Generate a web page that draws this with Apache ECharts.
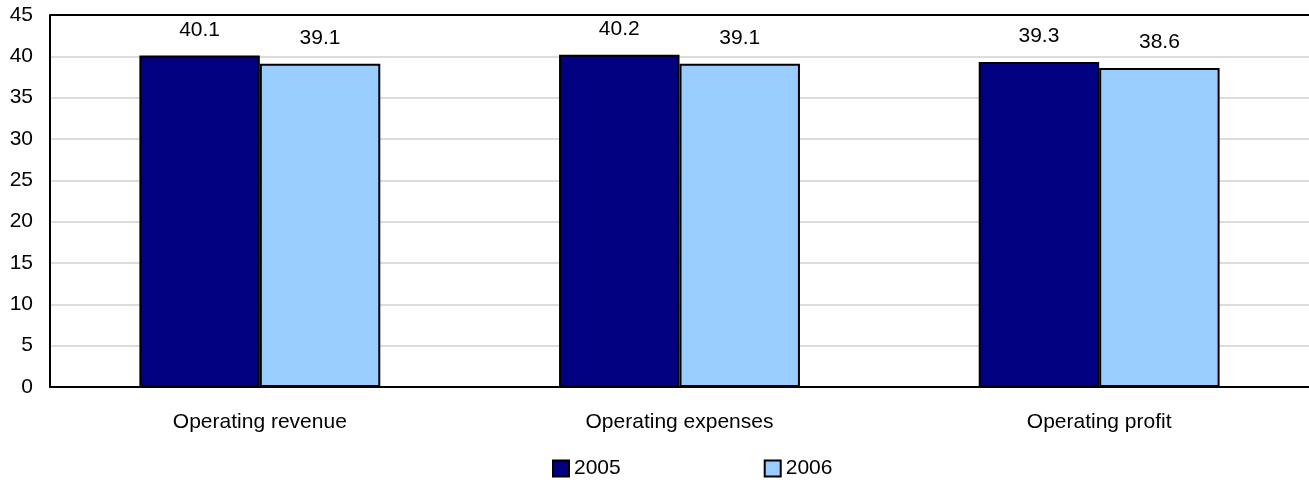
<!DOCTYPE html>
<html>
<head>
<meta charset="utf-8">
<script src="https://cdn.jsdelivr.net/npm/echarts@6/dist/echarts.min.js"></script>
<style>
  html, body { margin: 0; padding: 0; background: #fff; }
  #chart { width: 1309px; height: 489px; }
</style>
</head>
<body>
<div id="chart"></div>
<script>
// Operating indicators by year
const categories = ['Operating revenue', 'Operating expenses', 'Operating profit'];
const values2005 = [40.1, 40.2, 39.3];
const values2006 = [39.1, 39.1, 38.6];
const seriesNames = ['2005', '2006'];
const yMax = 45;

const FONT = '"Liberation Sans", Arial, sans-serif';
const FS = 21;
const chart = echarts.init(document.getElementById('chart'), null, { renderer: 'canvas' });

function barSeries(name, data, color, withFrame) {
  const s = {
    name: name,
    type: 'bar',
    data: data,
    barGap: '0%',
    barCategoryGap: '42.6%',
    itemStyle: { color: color, borderColor: '#000', borderWidth: 2 },
    label: {
      show: true,
      position: 'top',
      distance: 15,
      color: '#000',
      fontSize: FS,
      fontFamily: FONT,
      formatter: p => p.value.toFixed(1)
    },
    emphasis: { disabled: true }
  };
  if (withFrame) {
    // top frame line of the plot area
    s.markLine = {
      silent: true,
      symbol: 'none',
      label: { show: false },
      lineStyle: { color: '#000', width: 2, type: 'solid' },
      data: [{ yAxis: yMax }]
    };
  }
  return s;
}

chart.setOption({
  animation: false,
  textStyle: { fontFamily: FONT },
  grid: { left: 50, right: 0, top: 15, bottom: 102 },
  legend: {
    top: 453,
    left: 547,
    itemWidth: 16,
    itemHeight: 16,
    itemGap: 143,
    icon: 'rect',
    textStyle: { fontSize: FS, color: '#000', fontFamily: FONT },
    data: seriesNames
  },
  xAxis: {
    type: 'category',
    data: categories,
    axisLine: { show: true, lineStyle: { color: '#000', width: 2 } },
    axisTick: { show: false },
    axisLabel: { color: '#000', fontSize: FS, margin: 25 }
  },
  yAxis: {
    type: 'value',
    min: 0,
    max: yMax,
    interval: 5,
    axisLine: { show: true, lineStyle: { color: '#000', width: 2 } },
    axisTick: { show: false },
    axisLabel: { color: '#000', fontSize: FS, margin: 17 },
    splitLine: { lineStyle: { color: '#dcdcdc', width: 2 } }
  },
  series: [
    barSeries(seriesNames[0], values2005, '#000080', true),
    barSeries(seriesNames[1], values2006, '#99ccff', false)
  ]
});
</script>
</body>
</html>
